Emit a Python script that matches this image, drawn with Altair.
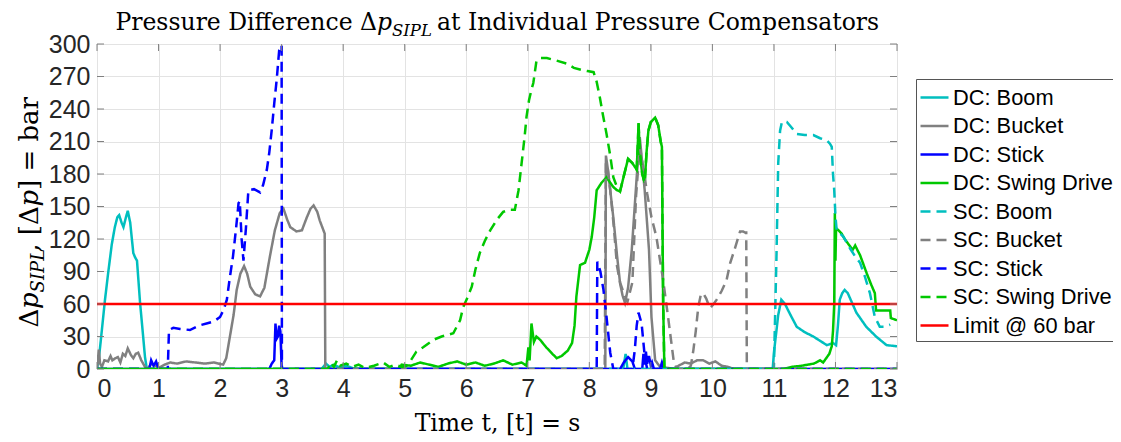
import altair as alt
import pandas as pd

# ---------------- data ----------------
series_names = ["DC: Boom", "DC: Bucket", "DC: Stick", "DC: Swing Drive",
                "SC: Boom", "SC: Bucket", "SC: Stick", "SC: Swing Drive",
                "Limit @ 60 bar"]
series_colors = ["#00BFBF", "#808080", "#0000FF", "#00C800",
                 "#00BFBF", "#808080", "#0000FF", "#00C800", "#FF0000"]

dc_boom_t = [0, 0.03, 0.05, 0.09, 0.13, 0.18, 0.24, 0.29, 0.33, 0.36, 0.40, 0.43, 0.47, 0.50,
             0.54, 0.59, 0.62, 0.65, 0.70, 0.75, 0.78, 0.81, 3.65, 3.72, 3.78, 3.85, 3.95, 4.05,
             4.15, 4.25, 8.55, 8.59, 8.62, 10.98, 11.00, 11.03, 11.07, 11.12, 11.18, 11.25,
             11.37, 11.5, 11.64, 11.75, 11.86, 11.96, 12.01, 12.04, 12.07, 12.11, 12.15, 12.2,
             12.34, 12.5, 12.66, 12.83, 13.0]
dc_boom_v = [0, 10, 20, 42, 64, 88, 115, 131, 140, 142, 135, 131, 140, 146,
             135, 107, 103, 100, 61, 30, 11, 0, 0, 5, 2, 4, 1, 3,
             1, 0, 0, 14, 0, 0, 15, 30, 50, 64, 60, 52,
             39, 34, 30, 26, 22, 24, 22, 40, 64, 70, 73, 70,
             52, 39, 30, 22, 21]

dc_bucket_t = [0, 0.03, 0.05, 0.08, 0.12, 0.18, 0.22, 0.25, 0.3, 0.34, 0.38, 0.42, 0.46, 0.5,
               0.55, 0.59, 0.63, 0.67, 0.72, 0.78, 0.82, 0.88, 0.95, 1.0, 1.1, 1.19, 1.3, 1.45,
               1.6, 1.75, 1.9, 2.05, 2.1, 2.16, 2.22, 2.27, 2.33, 2.39, 2.44, 2.49, 2.57, 2.65,
               2.72, 2.81, 2.89, 2.97, 3.03, 3.09, 3.14, 3.24, 3.33, 3.41, 3.47, 3.52, 3.58,
               3.62, 3.70, 3.71, 8.26, 8.27, 8.30, 8.34, 8.39, 8.45, 8.5, 8.54, 8.58, 8.63,
               8.69, 8.77, 8.82, 8.86, 8.90, 8.97, 9.01, 9.07, 9.15, 9.4, 9.45, 9.55, 9.65,
               9.75, 9.85, 9.95, 10.05, 10.15, 10.25, 10.35, 13.0]
dc_bucket_v = [0, 18, 5, 2, 8, 7, 12, 8, 10, 11, 6, 14, 12, 19,
               13, 10, 14, 15, 8, 2, 0, 5, 3, 1, 4, 6, 5, 7,
               6, 5, 6, 4, 10, 30, 50, 73, 88, 95, 88, 76, 69, 67,
               75, 104, 128, 144, 148, 138, 131, 127, 128, 140, 148, 151, 145,
               137, 125, 0, 0, 197, 185, 165, 140, 105, 79, 68, 61, 75,
               110, 177, 214, 190, 165, 110, 48, 8, 2, 0, 3, 6, 5,
               8, 8, 5, 7, 3, 2, 0, 0]

dc_stick_t = [0, 0.85, 0.88, 0.92, 0.96, 1.0, 1.05, 2.8, 2.84, 2.88, 2.9, 2.92, 2.94, 2.96,
              2.98, 3.0, 3.01, 8.5, 8.56, 8.63, 8.7, 8.74, 8.86, 8.88, 8.9, 8.92, 8.94, 8.97,
              9.0, 9.02, 9.05, 9.15, 9.18, 9.21, 13]
dc_stick_v = [0, 0, 8, 3, 7, 0, 0, 0, 5, 8, 42, 28, 30, 40,
              35, 2, 0, 0, 6, 11, 7, 0, 0, 14, 4, 16, 5, 12,
              3, 6, 0, 0, 6, 0, 0]

dc_swing_t = [0, 4.9, 4.95, 5.1, 5.25, 5.4, 5.55, 5.7, 5.85, 6.0, 6.15, 6.3, 6.45, 6.6, 6.75,
              6.9, 6.98, 7.01, 7.03, 7.06, 7.1, 7.14, 7.2, 7.3, 7.4, 7.47, 7.55, 7.65, 7.72,
              7.76, 7.79, 7.85, 7.93, 8.0, 8.04, 8.08, 8.12, 8.2, 8.28, 8.34, 8.39, 8.45, 8.5,
              8.56, 8.63, 8.7, 8.77, 8.79, 8.80, 8.82, 8.86, 8.90, 8.93, 8.96, 9.0, 9.07, 9.12,
              9.16, 9.18, 9.19, 9.2, 9.22, 11.15, 11.3, 11.45, 11.55, 11.65, 11.75, 11.8,
              11.85, 11.9, 11.94, 11.96, 11.98, 11.99, 12.0, 12.01, 12.05, 12.1, 12.15, 12.24,
              12.28, 12.32, 12.4, 12.51, 12.58, 12.64, 12.66, 12.75, 12.89, 12.9, 13.0]
dc_swing_v = [0, 0, 4, 3, 6, 4, 2, 5, 7, 4, 6, 3, 5, 8, 4,
              6, 3, 20, 8, 42, 25, 30, 27, 20, 14, 10, 12, 17, 24,
              40, 67, 96, 98, 110, 122, 140, 165, 172, 177, 172, 168, 165, 164,
              178, 194, 190, 184, 210, 227, 200, 180, 172, 200, 220, 228, 232, 225,
              210, 205, 130, 61, 0, 0, 2, 3, 4, 5, 8, 6,
              10, 14, 21, 35, 60, 144, 100, 130, 128, 125, 120, 113,
              110, 114, 105, 88, 78, 70, 54, 54, 54, 47, 45]

sc_boom_t = [0, 10.98, 11.0, 11.04, 11.07, 11.1, 11.13, 11.21, 11.3, 11.37, 11.5, 11.64,
             11.75, 11.86, 11.91, 11.94, 11.96, 11.98, 12.0, 12.02, 12.08, 12.13, 12.24,
             12.32, 12.4, 12.48, 12.56, 12.64, 12.72, 12.8, 12.89]
sc_boom_v = [0, 0, 2, 100, 190, 220, 228, 228, 222, 217, 216, 216,
             213, 211, 208, 205, 180, 165, 141, 128, 125, 122, 111,
             104, 98, 85, 70, 48, 39, 39, 41]

sc_bucket_t = [0, 8.25, 8.27, 8.3, 8.35, 8.4, 8.45, 8.5, 8.56, 8.62, 8.7, 8.76, 8.82, 8.88,
               8.94, 9.01, 9.09, 9.15, 9.2, 9.28, 9.37, 9.42, 9.6, 9.65, 9.69, 9.73, 9.77,
               9.81, 9.85, 9.9, 9.96, 10.02, 10.07, 10.15, 10.23, 10.29, 10.37, 10.45, 10.5,
               10.53, 10.55, 10.56, 13]
sc_bucket_v = [0, 0, 190, 185, 160, 130, 95, 80, 70, 62, 80, 160, 205, 185,
               162, 140, 122, 100, 82, 48, 8, 0, 0, 3, 17, 35, 57,
               68, 70, 65, 56, 60, 64, 72, 82, 98, 112, 127, 127,
               126, 126, 0, 0]

sc_stick_t = [0, 1.15, 1.17, 1.24, 1.35, 1.51, 1.65, 1.78, 1.9, 2.0, 2.06, 2.11, 2.16, 2.21,
              2.26, 2.30, 2.32, 2.35, 2.38, 2.42, 2.46, 2.55, 2.65, 2.7, 2.76, 2.8, 2.84, 2.88,
              2.92, 2.96, 3.0, 3.005, 8.1, 8.12, 8.13, 8.18, 8.23, 8.28, 8.34, 8.39, 8.7,
              8.74, 8.77, 8.8, 8.85, 8.9, 8.94, 13]
sc_stick_v = [0, 0, 36, 38, 37, 36, 40, 42, 44, 48, 55, 64, 85, 104,
              130, 153, 155, 120, 100, 130, 165, 166, 163, 170, 184, 200, 221, 245,
              267, 294, 299, 0, 0, 0, 99, 90, 73, 48, 15, 0, 0,
              18, 40, 52, 42, 12, 0, 0]

sc_swing_t = [0, 3.75, 3.8, 3.85, 3.9, 3.95, 4.05, 4.15, 4.25, 4.35, 4.5, 4.65, 4.75, 4.85,
              4.95, 5.03, 5.1, 5.19, 5.3, 5.47, 5.6, 5.79, 5.9, 5.95, 6.02, 6.09, 6.15, 6.22,
              6.3, 6.39, 6.5, 6.6, 6.7, 6.79, 6.85, 6.9, 6.95, 6.98, 7.02, 7.06, 7.09, 7.14,
              7.2, 7.31, 7.45, 7.63, 7.75, 7.88, 7.97, 8.07, 8.12, 8.17, 8.22, 8.28, 8.34,
              8.39, 8.45, 8.5, 8.56, 8.63, 8.7, 8.77, 8.79, 8.80, 8.82, 8.86, 8.90, 8.93,
              8.96, 9.0, 9.07, 9.12, 9.16, 9.18, 9.19, 9.2, 9.22, 13]
sc_swing_v = [0, 0, 6, 2, 8, 3, 5, 2, 4, 1, 3, 6, 2, 4,
              2, 3, 8, 16, 20, 27, 30, 33, 45, 57, 66, 76, 92, 107,
              118, 128, 138, 145, 147, 147, 165, 190, 215, 233, 248, 258, 264, 284,
              287, 287, 285, 282, 278, 276, 275, 274, 265, 251, 235, 217, 197,
              177, 168, 164, 178, 194, 190, 184, 210, 227, 200, 180, 172, 200,
              220, 228, 232, 225, 210, 205, 130, 61, 0, 0]

limit_t = [0, 13]
limit_v = [60, 60]

x_ticks = list(range(0, 14))
y_ticks = list(range(0, 301, 30))

# ---------------- table ----------------
all_t = [dc_boom_t, dc_bucket_t, dc_stick_t, dc_swing_t,
         sc_boom_t, sc_bucket_t, sc_stick_t, sc_swing_t, limit_t]
all_v = [dc_boom_v, dc_bucket_v, dc_stick_v, dc_swing_v,
         sc_boom_v, sc_bucket_v, sc_stick_v, sc_swing_v, limit_v]
rows = []
for name, ts, vs in zip(series_names, all_t, all_v):
    for i, (t, v) in enumerate(zip(ts, vs)):
        rows.append({"series": name, "t": t, "v": v, "i": i})
df = pd.DataFrame(rows)
xt_df = pd.DataFrame({"t": x_ticks})
yt_df = pd.DataFrame({"v": y_ticks})

dashes = [[1, 0]] * 4 + [[10, 6]] * 4 + [[1, 0]]

SERIF = "DejaVu Serif"
SANS = "Liberation Sans"
FS = 23.5
SUB = 16.5
FSY = 26
SUBY = 18
W, H = 800, 325
TICK = 7
FRAME = "#808080"

xscale = alt.Scale(domain=[0, 13], nice=False, zero=False)
yscale = alt.Scale(domain=[0, 300], nice=False)
xaxis = alt.Axis(values=x_ticks, title="Time t, [t] = s", format="d")
yaxis = alt.Axis(values=y_ticks, title=None, format="d")

legend = alt.Legend(
    title=None, orient="none", legendX=819, legendY=35,
    symbolType="stroke", symbolSize=784, symbolStrokeWidth=2.5,
    labelFont=SANS, labelFontSize=21.8, labelColor="#000000", labelOffset=3,
    rowPadding=0.5, padding=3, strokeColor="#555555", fillColor="#FFFFFF",
    labelLimit=300,
)

lines = alt.Chart(df).mark_line(strokeWidth=2.5, clip=True, strokeCap="butt").encode(
    x=alt.X("t:Q", scale=xscale, axis=xaxis),
    y=alt.Y("v:Q", scale=yscale, axis=yaxis),
    color=alt.Color("series:N", scale=alt.Scale(domain=series_names, range=series_colors),
                    legend=legend),
    strokeDash=alt.StrokeDash("series:N", scale=alt.Scale(domain=series_names, range=dashes),
                              legend=legend),
    order=alt.Order("i:Q"),
)

# inward tick marks on all four sides of the frame
tick_layers = [
    alt.Chart(yt_df).mark_rule(color=FRAME, strokeWidth=1).encode(
        y=alt.Y("v:Q", scale=yscale, axis=yaxis), x=alt.value(0), x2=alt.value(TICK)),
    alt.Chart(yt_df).mark_rule(color=FRAME, strokeWidth=1).encode(
        y=alt.Y("v:Q", scale=yscale, axis=yaxis), x=alt.value(W - TICK), x2=alt.value(W)),
    alt.Chart(xt_df).mark_rule(color=FRAME, strokeWidth=1).encode(
        x=alt.X("t:Q", scale=xscale, axis=xaxis), y=alt.value(H - TICK), y2=alt.value(H)),
    alt.Chart(xt_df).mark_rule(color=FRAME, strokeWidth=1).encode(
        x=alt.X("t:Q", scale=xscale, axis=xaxis), y=alt.value(0), y2=alt.value(TICK)),
]

one = alt.Data(values=[{"k": 1}])


def txt(s, x, y, size=FS, italic=False, align="left", angle=0, baseline="alphabetic"):
    kw = dict(text=s, font=SERIF, fontSize=size, align=align, baseline=baseline,
              color="#000000", fontStyle="italic" if italic else "normal")
    if angle:
        kw["angle"] = angle
    return alt.Chart(one).mark_text(**kw).encode(x=alt.value(x), y=alt.value(y))


# title pieces (plot coordinates: origin at plot's top-left)
title_layers = [
    txt("Pressure Difference \u0394", 280, -14, align="right"),
    txt("p", 280, -14, italic=True),
    txt("SIPL", 295, -8, size=SUB, italic=True),
    txt("at Individual Pressure Compensators", 340, -14),
]

# y-axis title pieces, rotated to read upward
yx = -59
ytitle_layers = [
    txt("\u0394", yx, 283.5, size=FSY, angle=270),
    txt("p", yx, 265, size=FSY, italic=True, angle=270),
    txt("SIPL", yx + 6, 248.4, size=SUBY, italic=True, angle=270),
    txt(", [\u0394", yx, 207.7, size=FSY, angle=270),
    txt("p", yx, 162.6, size=FSY, italic=True, angle=270),
    txt("] = bar", yx, 146, size=FSY, angle=270),
]

chart = alt.layer(lines, *tick_layers, *title_layers, *ytitle_layers).properties(
    width=W, height=H,
    autosize=alt.AutoSizeParams(type="none"),
    padding={"left": 89, "top": 36, "right": 216, "bottom": 73},
).configure_view(
    stroke=FRAME, strokeWidth=1
).configure_axis(
    labelFont=SANS, labelFontSize=25, labelColor="#262626",
    domain=False, ticks=False, grid=True, gridColor="#E3E3E3", gridWidth=1,
    labelPadding=7,
    titleFont=SERIF, titleFontSize=FS, titleFontWeight="normal", titleColor="#000000",
    titlePadding=10,
)

chart.save("out.html", embed_options={"renderer": "svg", "actions": False})
